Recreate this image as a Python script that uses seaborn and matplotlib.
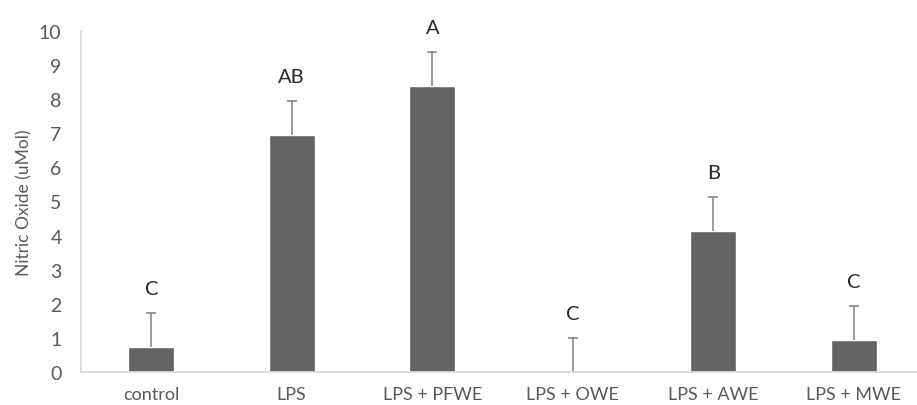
import numpy as np
import matplotlib
matplotlib.use("Agg")
import matplotlib.pyplot as plt
import seaborn as sns

# values
groups = ['control', 'LPS', 'LPS + PFWE', 'LPS + OWE', 'LPS + AWE', 'LPS + MWE']
nitric_oxide = [0.73, 6.95, 8.38, 0.0, 4.14, 0.93]
errors = [1.0, 1.0, 1.0, 1.0, 1.0, 1.0]
letters = ['C', 'AB', 'A', 'C', 'B', 'C']

sns.set_theme(style='white')
plt.rcParams['font.family'] = ['Lato', 'DejaVu Sans']

fig = plt.figure(figsize=(9.17, 4.06), dpi=100)
# axes: left spine at x=81px, baseline at y=373px, top at y=32px
ax = fig.add_axes([81 / 917, 33 / 406, 843 / 917, 341 / 406])

sns.barplot(x=groups, y=nitric_oxide, color='#636363', width=0.33,
            saturation=1, ax=ax)

# upper-only error bars, Excel style
xpos = np.arange(len(groups))
tops = np.array(nitric_oxide) + np.array(errors)
ax.vlines(xpos, nitric_oxide, tops, color='#7f7f7f', lw=1.1)
ax.hlines(tops, xpos - 0.037, xpos + 0.037, color='#7f7f7f', lw=1.1)

# significance letters above the error bars
for x, t, lab in zip(xpos, tops, letters):
    ax.text(x, t + 0.47, lab, ha='center', va='bottom',
            fontsize=14.5, color='#262626')

ax.set_ylim(0, 10)
ax.set_xlim(-0.5, len(groups) - 0.5)
ax.set_yticks(range(0, 11))
ax.set_ylabel('Nitric Oxide (uMol)', fontsize=12.5, color='#595959',
              labelpad=5)
ax.set_xlabel('')

for side in ['top', 'right']:
    ax.spines[side].set_visible(False)
for side in ['left', 'bottom']:
    ax.spines[side].set_color('#d9d9d9')
    ax.spines[side].set_linewidth(1.3)

ax.tick_params(axis='y', length=0, pad=14, labelsize=14,
               labelcolor='#595959')
ax.tick_params(axis='x', length=0, pad=10, labelsize=13,
               labelcolor='#595959')

fig.savefig('out.png', dpi=100)
